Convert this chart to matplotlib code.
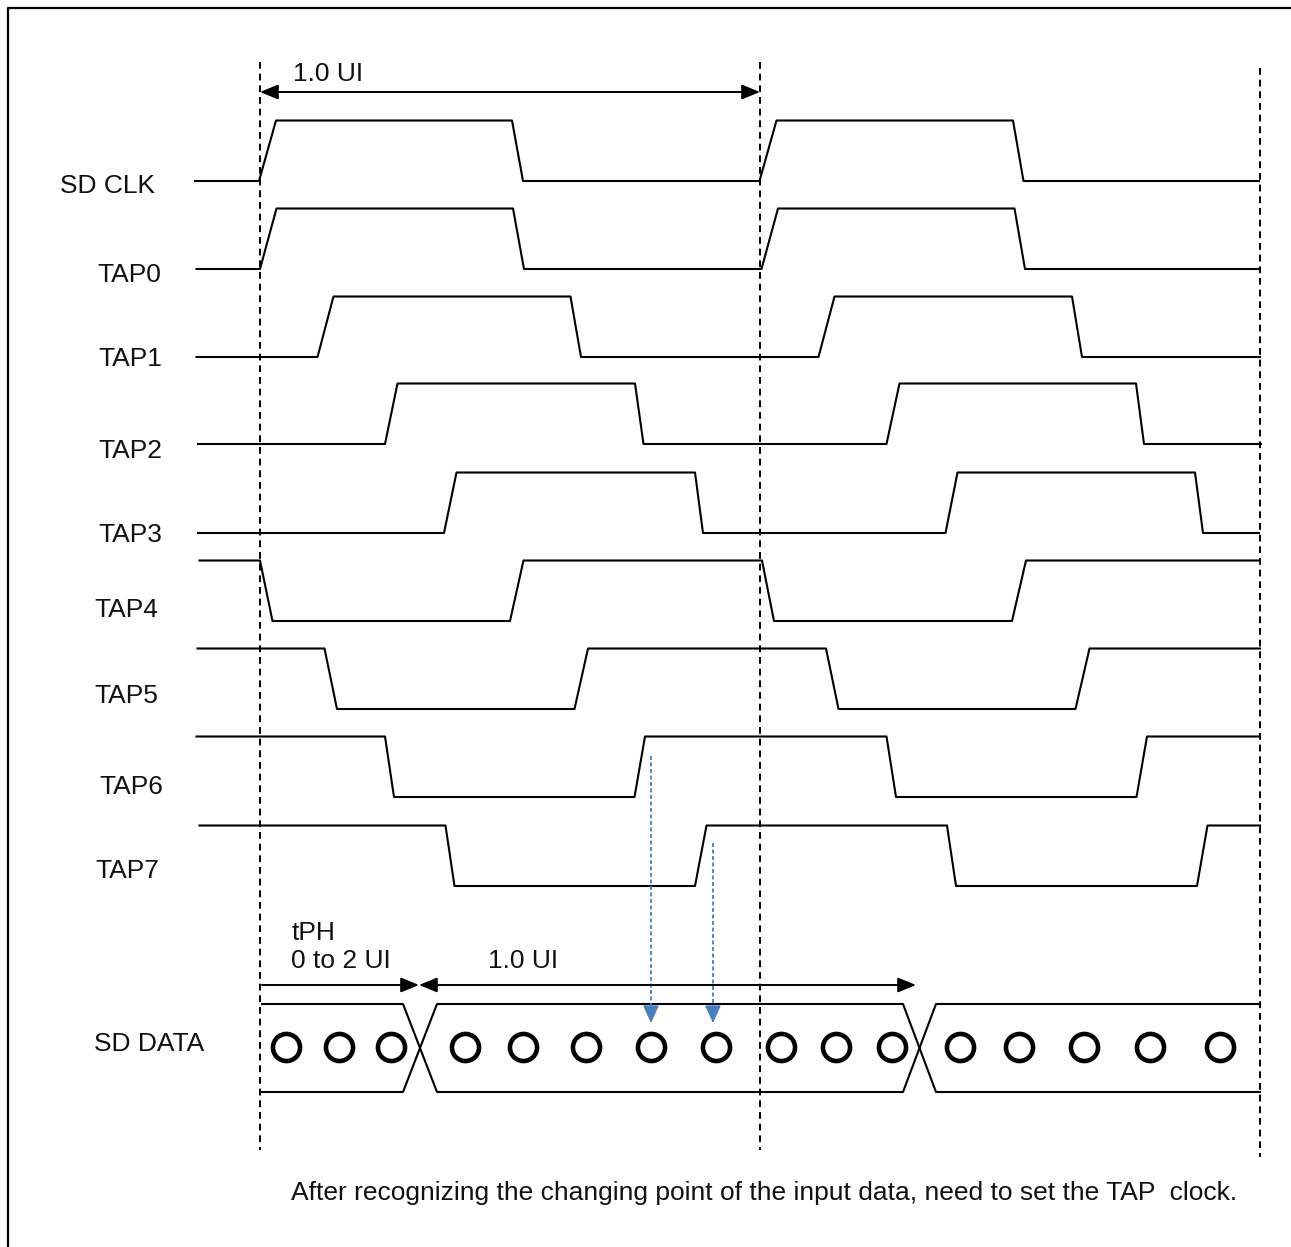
import matplotlib.pyplot as plt

plt.rcParams['font.family'] = ['Liberation Sans', 'DejaVu Sans']

# timing data, time in UI (0 = first clock edge)
signals = ["SD CLK", "TAP0", "TAP1", "TAP2", "TAP3", "TAP4", "TAP5", "TAP6", "TAP7"]
start_level = [0, 0, 0, 0, 0, 1, 1, 1, 1]
wave_start = [-0.13, -0.127, -0.127, -0.124, -0.124, -0.121, -0.125, -0.127, -0.121]
wave_end = [1.998, 2.0, 2.0, 2.002, 1.998, 2.0, 2.0, 2.0, 2.0]
# each edge: (begin, end) of the transition
edges = [
    [(-0.002, 0.032), (0.504, 0.526), (0.999, 1.033), (1.506, 1.527)],
    [(0.0, 0.033), (0.506, 0.528), (1.003, 1.036), (1.509, 1.530)],
    [(0.115, 0.147), (0.621, 0.642), (1.117, 1.149), (1.624, 1.644)],
    [(0.250, 0.275), (0.750, 0.767), (1.253, 1.279), (1.752, 1.768)],
    [(0.368, 0.393), (0.870, 0.886), (1.371, 1.395), (1.870, 1.886)],
    [(0.0, 0.025), (0.500, 0.527), (1.004, 1.028), (1.504, 1.532)],
    [(0.129, 0.154), (0.629, 0.656), (1.132, 1.157), (1.631, 1.659)],
    [(0.250, 0.268), (0.749, 0.770), (1.253, 1.272), (1.753, 1.774)],
    [(0.371, 0.389), (0.870, 0.893), (1.374, 1.392), (1.874, 1.895)],
]

# SD DATA bus
data_start = 0.004
data_end = 2.0
data_cross = [(0.286, 0.354), (1.286, 1.352)]
data_bits = [0.052, 0.157, 0.261, 0.409, 0.525, 0.651, 0.782, 0.912,
             1.042, 1.152, 1.264, 1.399, 1.518, 1.648, 1.779, 1.919]
sample_points = [0.782, 0.906]

ui_marks = [0.0, 1.0, 2.0]
tph_range = (0.004, 0.318)
ui_range = (0.318, 1.312)

# layout (pixel rows)
W, H = 1291, 1247
T0, UI = 260, 500
row_low = [181, 269, 357, 444, 533, 621, 709, 797, 886]
amp = 60.5
label_x = [60, 97, 98, 98, 98, 94, 94, 99, 95]
label_base = [193, 282, 366, 458, 542, 617, 703, 794, 878]
data_top, data_bot, data_mid = 1004, 1092, 1047
fs = 19
blue = "#4a7ebb"

fig = plt.figure(figsize=(W / 100, H / 100), dpi=100)
ax = fig.add_axes([0, 0, 1, 1])
ax.set_xlim(-T0 / UI, (W - T0) / UI)
ax.set_ylim(H, 0)
ax.axis("off")

# frame (top and left)
ax.plot([0.006, 0.006, 1.0], [0.0, 0.9936, 0.9936], color="black", lw=1.6,
        transform=ax.transAxes, solid_capstyle="butt")

# clock / tap waveforms
for i, name in enumerate(signals):
    lvl = start_level[i]
    xs, ys = [wave_start[i]], [lvl]
    for a, b in edges[i]:
        xs += [a, b]
        ys += [lvl, 1 - lvl]
        lvl = 1 - lvl
    xs.append(wave_end[i])
    ys.append(lvl)
    ax.plot(xs, [row_low[i] - amp * v for v in ys], color="black", lw=1.5)
    ax.text((label_x[i] - T0) / UI, label_base[i], name, fontsize=fs,
            va="baseline", ha="left", color="#111111")

# UI dashed markers
ax.plot([ui_marks[0]] * 2, [62, 1150], color="black", lw=1.4, ls=(0, (3.5, 2.5)))
ax.plot([ui_marks[1]] * 2, [62, 1150], color="black", lw=1.4, ls=(0, (3.5, 2.5)))
ax.plot([ui_marks[2]] * 2, [68, 1157], color="black", lw=1.4, ls=(0, (3.5, 2.5)))

# top 1.0 UI arrow
ax.annotate("", xy=(ui_marks[1], 92), xytext=(ui_marks[0], 92),
            arrowprops=dict(arrowstyle="<|-|>,head_length=1.1,head_width=0.45",
                            mutation_scale=10, color="black", lw=1.4,
                            shrinkA=0, shrinkB=0))
ax.text((293 - T0) / UI, 81, "1.0 UI", fontsize=fs, va="baseline", color="#111111")

# SD DATA bus outline
(c1a, c1b), (c2a, c2b) = data_cross
ax.plot([data_start, c1a, c1b, c2a, c2b, data_end],
        [data_top, data_top, data_bot, data_bot, data_top, data_top],
        color="black", lw=1.5)
ax.plot([data_start, c1a, c1b, c2a, c2b, data_end],
        [data_bot, data_bot, data_top, data_top, data_bot, data_bot],
        color="black", lw=1.5)
ax.plot(data_bits, [data_mid] * len(data_bits), ls="none", marker="o",
        markersize=19.5, markerfacecolor="white", markeredgecolor="black",
        markeredgewidth=3.3)
ax.text((94 - T0) / UI, 1051, "SD DATA", fontsize=fs, va="baseline", color="#111111")

# tPH and 1.0 UI arrows
ax.annotate("", xy=(tph_range[1], 985), xytext=(tph_range[0], 985),
            arrowprops=dict(arrowstyle="-|>,head_length=1.1,head_width=0.45",
                            mutation_scale=10, color="black", lw=1.4,
                            shrinkA=0, shrinkB=0))
ax.annotate("", xy=(ui_range[1], 985), xytext=(ui_range[0], 985),
            arrowprops=dict(arrowstyle="<|-|>,head_length=1.1,head_width=0.45",
                            mutation_scale=10, color="black", lw=1.4,
                            shrinkA=0, shrinkB=0))
ax.text((292 - T0) / UI, 940, "tPH", fontsize=fs, va="baseline", color="#111111")
ax.text((291 - T0) / UI, 968, "0 to 2 UI", fontsize=fs, va="baseline", color="#111111")
ax.text((488 - T0) / UI, 968, "1.0 UI", fontsize=fs, va="baseline", color="#111111")

# blue sampling arrows from TAP6 / TAP7 rising edges
tops = [756, 843]
for x, y0 in zip(sample_points, tops):
    ax.plot([x, x], [y0, 1008], color=blue, lw=1.3, ls=(0, (2.2, 1.4)))
    ax.annotate("", xy=(x, 1023), xytext=(x, 1007),
                arrowprops=dict(arrowstyle="-|>,head_length=1.1,head_width=0.5",
                                mutation_scale=10, color=blue, lw=1.0,
                                shrinkA=0, shrinkB=0))

ax.text((291 - T0) / UI, 1200,
        "After recognizing the changing point of the input data, need to set the TAP  clock.",
        fontsize=fs, va="baseline", color="#111111")

fig.savefig("out.png", dpi=100)
